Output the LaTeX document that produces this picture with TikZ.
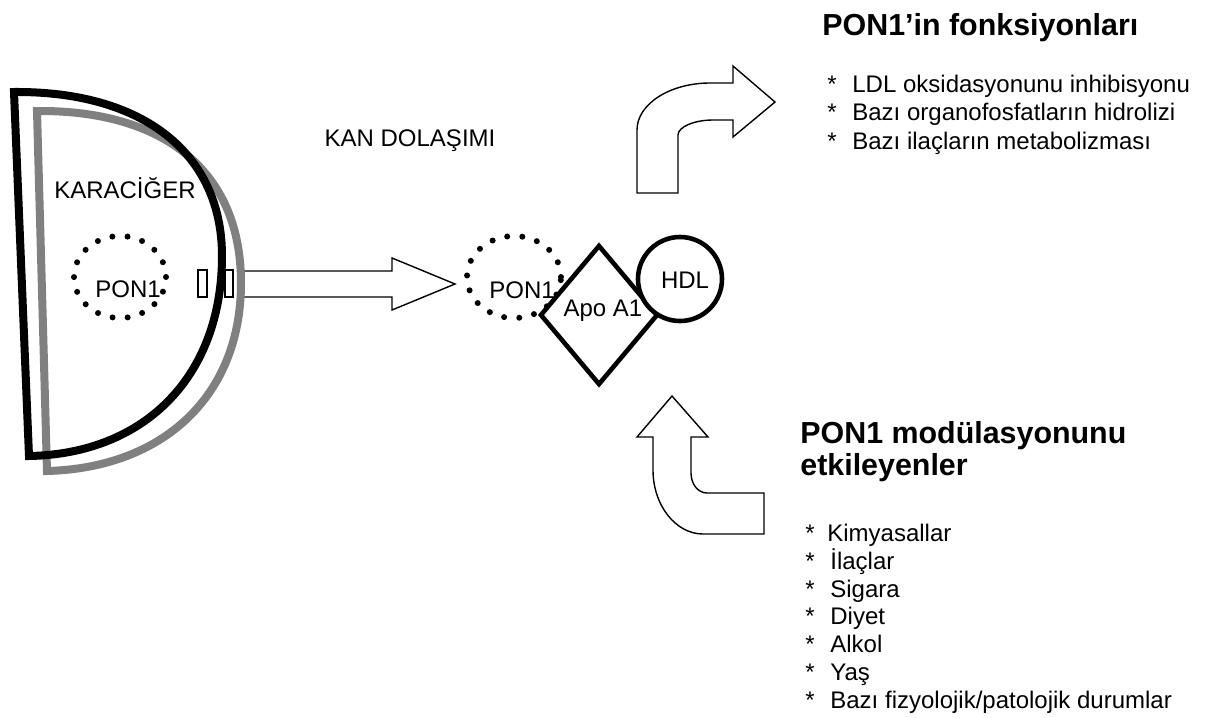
\documentclass[tikz,border=0pt]{standalone}
\usepackage{fontspec}
\setmainfont{Liberation Sans}
\usetikzlibrary{shapes.geometric}
\definecolor{livergray}{RGB}{128,128,128}
\begin{document}
\begin{tikzpicture}[x=0.5pt,y=-0.5pt,
  lbl/.style={font=\fontsize{12}{14}\selectfont, inner sep=0pt},
  heading/.style={font=\fontsize{15.2}{17}\selectfont\bfseries, inner sep=0pt, anchor=base west},
  item/.style={font=\fontsize{12}{14}\selectfont, inner sep=0pt, anchor=base west},
  dotring/.style={ellipse, draw, line width=3pt, line cap=round, dash pattern=on 0pt off 7.6pt, inner sep=0pt},
  blockarrow/.style={draw=black, line width=0.7pt, line join=miter},
  liverline/.style={line width=4pt, line join=miter},
  thick outline/.style={draw=black, fill=white, line width=2.3pt, inner sep=0pt},
]
\useasboundingbox (0,0) rectangle (1206,718);
\fill[white] (0,0) rectangle (1206,718);

% membrane rectangles and the straight block arrow
\draw[line width=0.7pt] (198,270) rectangle (207,297);
\draw[line width=0.7pt] (225,270) rectangle (233,297);
\draw[blockarrow] (239,271) -- (392,271) -- (392,258) -- (455,284) -- (392,310) -- (392,297) -- (239,297) -- cycle;

% liver outlines
\draw[liverline, draw=livergray] (37,111) .. controls (163,110) and (241,170) .. (241,283)
   .. controls (241,396) and (163,468) .. (47,471) -- cycle;
\draw[liverline, draw=black] (14,92) .. controls (144,91) and (222,154) .. (222,256)
   .. controls (222,376) and (145,454) .. (29,456) -- cycle;

% PON1 in the liver
\node[dotring, minimum width=46pt, minimum height=41pt] (ponL) at (120,277) {};
\node[lbl] (karaciger) at (125,188) {KARACİĞER};
\node[lbl] (ponLtxt) at (128,289) {PON1};

% blood circulation
\node[lbl] (kan) at (410,141) {KAN DOLAŞIMI};
\node[dotring, minimum width=47pt, minimum height=41pt] (ponB) at (514,277) {};
\node[thick outline, diamond, minimum width=59pt, minimum height=70pt] (apo) at (599,315) {};
\node[thick outline, circle, minimum size=42pt] (hdl) at (680,279) {};
\node[lbl] (ponBtxt) at (522,290) {PON1};
\node[lbl] (apotxt) at (603,311) {Apo A1};
\node[lbl] (hdltxt) at (685,280) {HDL};

% curved arrow up-right
\draw[blockarrow] (637,193) -- (637,130) .. controls (637,104) and (670,83) .. (710,83)
   -- (733,83) -- (733,66) -- (775,102) -- (733,137) -- (733,120) -- (713,120)
   .. controls (694,120) and (678,127) .. (678,135) -- (678,193) -- cycle;

% curved arrow up
\draw[blockarrow] (672,396) -- (708,437) -- (691,437) -- (691,473)
   .. controls (691,484) and (698,493) .. (707,493) -- (764,493) -- (764,534) -- (703,534)
   .. controls (675.5,534) and (653,505) .. (653,470) -- (653,437) -- (637,437) -- cycle;

% functions
\node[heading] (fhead) at (822,35) {PON1’in fonksiyonları};
\node[item] (f1) at (827,92) {\makebox[12.5pt][l]{*}LDL oksidasyonunu inhibisyonu};
\node[item] (f2) at (827,120.5) {\makebox[12.5pt][l]{*}Bazı organofosfatların hidrolizi};
\node[item] (f3) at (827,149) {\makebox[12.5pt][l]{*}Bazı ilaçların metabolizması};

% modulators
\node[heading] (mhead1) at (800,443) {PON1 modülasyonunu};
\node[heading] (mhead2) at (800,475) {etkileyenler};
\node[item] (m1) at (805,541) {\makebox[11pt][l]{*}Kimyasallar};
\node[item] (m2) at (805,569) {\makebox[12.5pt][l]{*}İlaçlar};
\node[item] (m3) at (805,597) {\makebox[12.5pt][l]{*}Sigara};
\node[item] (m4) at (805,624) {\makebox[12.5pt][l]{*}Diyet};
\node[item] (m5) at (805,652) {\makebox[12.5pt][l]{*}Alkol};
\node[item] (m6) at (805,680) {\makebox[12.5pt][l]{*}Yaş};
\node[item] (m7) at (805,708) {\makebox[12.5pt][l]{*}Bazı fizyolojik/patolojik durumlar};
\end{tikzpicture}
\end{document}
